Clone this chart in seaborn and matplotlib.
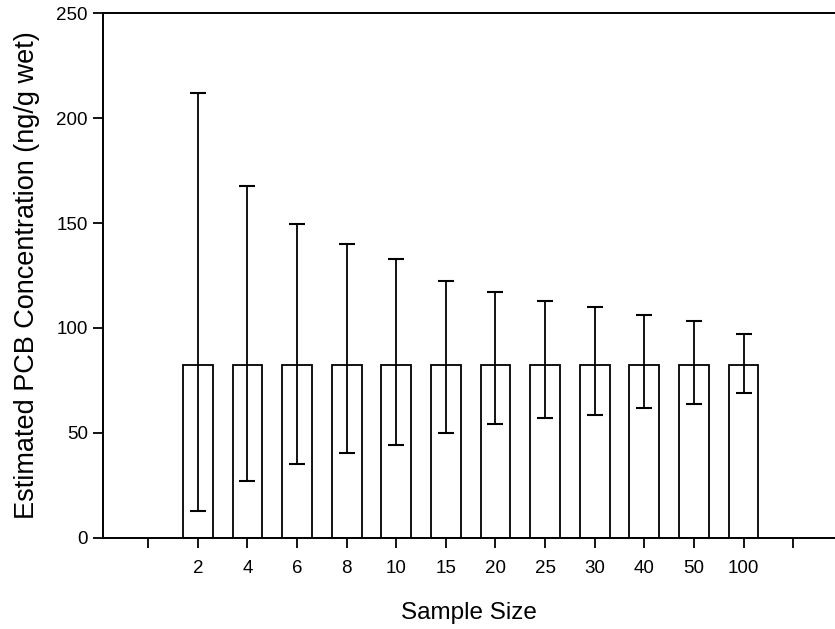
import matplotlib
matplotlib.use("Agg")
import matplotlib.pyplot as plt
import pandas as pd
import seaborn as sns

sample_size = ["2", "4", "6", "8", "10", "15", "20", "25", "30", "40", "50", "100"]
mean_conc = [82.5] * 12
upper = [211.8, 167.8, 149.5, 140.0, 133.0, 122.5, 117.0, 113.0, 110.0, 106.0, 103.5, 97.2]
lower = [13.0, 27.1, 35.1, 40.3, 44.1, 50.2, 54.1, 57.0, 58.7, 61.7, 63.7, 69.2]

df = pd.DataFrame({"size": sample_size, "conc": mean_conc})
# empty slots on both ends, like the original axis
order = [""] + sample_size + [" "]

sns.set_style("ticks")
plt.rcParams["font.family"] = ["Liberation Sans", "DejaVu Sans"]
plt.rcParams["text.color"] = "black"
plt.rcParams["axes.labelcolor"] = "black"
plt.rcParams["xtick.color"] = "black"
plt.rcParams["ytick.color"] = "black"

fig = plt.figure(figsize=(8.35, 6.29), dpi=100)
ax = fig.add_axes([0.1234, 0.1447, 0.877, 0.8346])

sns.barplot(data=df, x="size", y="conc", order=order, color="white",
            edgecolor="black", linewidth=1.3, width=0.6, errorbar=None, ax=ax)

bars = [p for p in ax.patches if p.get_height() > 0]
xs = [p.get_x() + p.get_width() / 2 for p in bars]
yerr = [[m - lo for m, lo in zip(mean_conc, lower)],
        [hi - m for m, hi in zip(mean_conc, upper)]]
ax.errorbar(xs, mean_conc, yerr=yerr, fmt="none", ecolor="black",
            elinewidth=1.3, capsize=5.8, capthick=1.5)

ax.set_xlim(-0.91, 13.85)
ax.set_ylim(0, 250)
ax.set_yticks([0, 50, 100, 150, 200, 250])
ax.set_xlabel("Sample Size", fontsize=17.5, labelpad=18)
ax.set_ylabel("Estimated PCB Concentration (ng/g wet)", fontsize=19.5, labelpad=12)
ax.tick_params(axis="both", labelsize=13.5, direction="out", length=7, width=1.3,
               color="black", labelcolor="black")
ax.tick_params(axis="x", pad=9)
ax.tick_params(axis="y", pad=4)
for s in ["left", "bottom", "top"]:
    ax.spines[s].set_linewidth(1.4)
    ax.spines[s].set_color("black")
ax.spines["top"].set_visible(True)
ax.spines["right"].set_visible(False)

fig.savefig("out.png", dpi=100)
